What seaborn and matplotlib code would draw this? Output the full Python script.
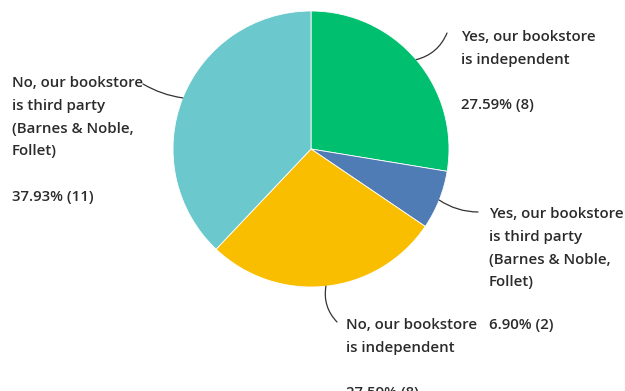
import numpy as np
import matplotlib
matplotlib.use("Agg")
import matplotlib.pyplot as plt
import seaborn as sns

categories = [
    "Yes, our bookstore\nis independent",
    "Yes, our bookstore\nis third party\n(Barnes & Noble,\nFollet)",
    "No, our bookstore\nis independent",
    "No, our bookstore\nis third party\n(Barnes & Noble,\nFollet)",
]
percents = [27.59, 6.90, 27.59, 37.93]
counts = [8, 2, 8, 11]
colors = ["#00BF6F", "#507CB6", "#F9BE00", "#6BC8CD"]

sns.set_theme(style="white")
plt.rcParams["font.family"] = ["Open Sans", "DejaVu Sans"]
palette = sns.color_palette(colors)

W, H = 625, 391
fig = plt.figure(figsize=(W / 100, H / 100), dpi=100)
cx, cy, r = 311, 149, 138
ax = fig.add_axes([(cx - r) / W, (H - cy - r) / H, 2 * r / W, 2 * r / H])
wedges, _ = ax.pie(counts, colors=palette, startangle=90, counterclock=False,
                   radius=1, wedgeprops=dict(linewidth=0.6, edgecolor="white"))
ax.set_xlim(-1, 1)
ax.set_ylim(-1, 1)
ax.set_aspect("auto")
ax.axis("off")

# label layout: (text left x, first line top y, leader end x, leader end y, rad) in image pixels
layout = [
    (461, 30, 447, 33, -0.25),
    (489, 207, 478, 212, -0.15),
    (346, 318, 337, 322, -0.25),
    (12, 76, 143, 84, 0.1),
]
txt_color = "#2b2b2b"
fs = 10.8
ls = 1.8
wt = "semibold"
for i, (w, (tx, ty, ex, ey, rad)) in enumerate(zip(wedges, layout)):
    mid = np.deg2rad((w.theta1 + w.theta2) / 2)
    label = categories[i] + "\n\n" + f"{percents[i]:.2f}% ({counts[i]})"
    if i == 1:
        fig.text(tx / W, 1 - ty / H, categories[i], ha="left", va="top",
                 fontsize=fs, fontweight=wt, color=txt_color, linespacing=ls)
        fig.text(tx / W, 1 - 318 / H, f"{percents[i]:.2f}% ({counts[i]})", ha="left", va="top",
                 fontsize=fs, fontweight=wt, color=txt_color, linespacing=ls)
    else:
        fig.text(tx / W, 1 - ty / H, label, ha="left", va="top",
                 fontsize=fs, fontweight=wt, color=txt_color, linespacing=ls)
    ax.annotate("", xy=(np.cos(mid), np.sin(mid)), xycoords="data",
                xytext=(ex, H - ey), textcoords="figure pixels",
                arrowprops=dict(arrowstyle="-", color="#333333", lw=0.9,
                                connectionstyle=f"arc3,rad={rad}",
                                shrinkA=0, shrinkB=0))

fig.savefig("out.png", dpi=100, facecolor="white")
